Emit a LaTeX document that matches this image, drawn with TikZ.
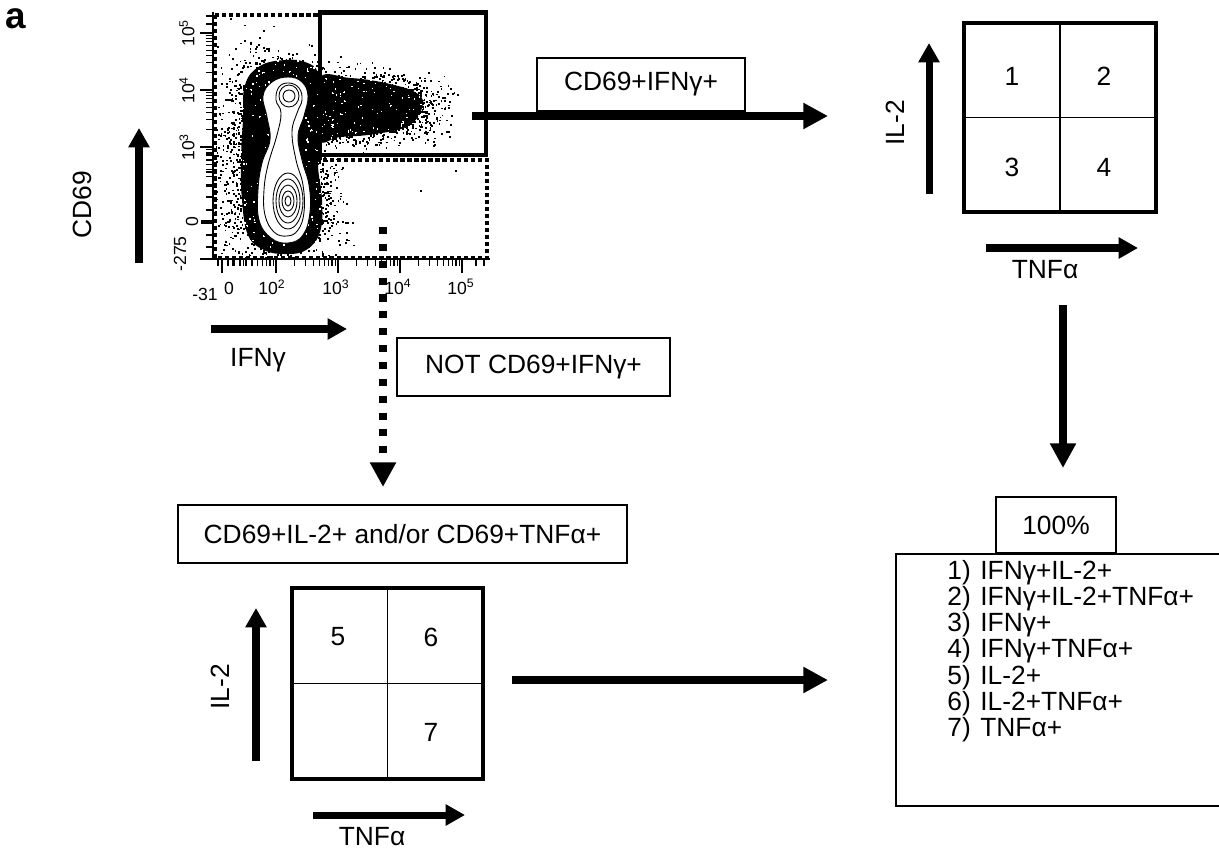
\documentclass[tikz,border=0pt]{standalone}
\usepackage{fontspec}
\setmainfont{Liberation Sans}
\usetikzlibrary{arrows.meta, positioning, calc}

\tikzset{
  txt/.style={font=\fontsize{15}{18}\selectfont, inner sep=0pt},
  lbl/.style={txt, draw, line width=0.9pt},
  quad/.style={draw, line width=1.9pt, inner sep=0pt},
  ticklbl/.style={font=\fontsize{10}{12}\selectfont, inner sep=0pt},
  bigarrow/.style={line width=4.5pt, -{Triangle[length=14pt,width=14pt]}},
  axarrow/.style={line width=4pt, -{Triangle[length=11pt,width=11.5pt]}},
  gatearrow/.style={line width=4pt, dash pattern=on 4pt off 5.6pt, -{Triangle[length=14pt,width=14pt]}},
  axtick/.style={line width=0.7pt}
}

\begin{document}
\begin{tikzpicture}[x=0.02cm, y=-0.02cm]
        % whole panel, 1219 x 852 px
        \useasboundingbox (0,0) rectangle (1219,852);
        \clip (0,0) rectangle (1219,852);

        \node[font=\bfseries\fontsize{21}{24}\selectfont, inner sep=0pt] (panel) at (16,19) {a};

        % dot plot CD69 vs IFNg
        \pgfmathsetseed{11}
        \begin{scope}
          \clip (215,15) rectangle (487,257);
          % dense cores
          \fill plot[smooth cycle, tension=0.7] coordinates {(285,60) (305,62) (318,72) (322,95) (320,130) (318,165) (322,200) (320,232) (306,250) (285,254) (264,250) (248,235) (242,200) (241,160) (243,120) (245,85) (260,66)};
          \fill plot[smooth cycle, tension=0.7] coordinates {(318,80) (350,78) (390,84) (418,94) (422,108) (408,126) (375,134) (340,137) (318,138)};
          % white speckle in the cores
          \foreach \i in {1,...,300}{
            \pgfmathsetmacro\px{281+41*rand}
            \pgfmathsetmacro\py{157+97*rand}
            \fill[white] (\px,\py) rectangle ++(1.6,1.6);
          }
          \foreach \i in {1,...,170}{
            \pgfmathsetmacro\px{370+52*rand}
            \pgfmathsetmacro\py{108+30*rand}
            \fill[white] (\px,\py) rectangle ++(1.5,1.5);
          }
          % n / centre x / centre y / spread x / spread y
          \foreach \n/\cx/\cy/\sx/\sy in {1300/284/196/26/30, 900/285/98/24/20, 1000/258/150/22/50, 1500/372/107/32/17}{
            \foreach \i in {1,...,\n}{
              \pgfmathsetmacro\px{\cx+\sx*(rand+rand+rand)}
              \pgfmathsetmacro\py{\cy+\sy*(rand+rand+rand)}
              \fill (\px,\py) rectangle ++(1.8,1.8);
            }
          }
          % a few stray events
          \foreach \px/\py in {330/185, 345/222, 352/222, 338/240, 420/190, 455/170}
            \fill (\px,\py) rectangle ++(1.8,1.8);
        \end{scope}

        % contours
        \filldraw[fill=white, line width=0.5pt] plot[smooth cycle, tension=0.7] coordinates {(288,77) (302,82) (308,96) (304,116) (298,136) (302,160) (309,185) (310,212) (303,235) (288,243) (271,238) (259,220) (258,190) (262,163) (270,140) (267,117) (263,96) (272,82)};
        \draw[line width=0.5pt] plot[smooth cycle, tension=0.7] coordinates {(289,83) (299,88) (302,100) (297,113) (292,132) (296,160) (303,185) (304,212) (298,230) (287,236) (274,232) (265,215) (264,190) (268,165) (277,135) (281,113) (276,100) (279,87)};
        \draw[line width=0.5pt] (289,96) ellipse [x radius=10, y radius=11];
        \draw[line width=0.5pt] (289,96) ellipse [x radius=6, y radius=6];
        \foreach \rx/\ry in {15/28, 12/22, 9/16, 6/10, 3/5}
          \draw[line width=0.5pt] (288,201) ellipse [x radius=\rx, y radius=\ry];

        % axes with log ticks
        \draw[axtick] (213,12) -- (213,259) -- (490,259);
        \foreach \d in {33,90,147}{
          \draw[axtick] (213,\d) -- (200,\d);
          \foreach \k in {0.301,0.477,0.602,0.699,0.778,0.845,0.903,0.954}
            \draw[axtick] (213,\d+57-57*\k) -- (206,\d+57-57*\k);
        }
        \foreach \d in {16,24,154,160,172,185,197,210,235,247}
          \draw[axtick] (213,\d) -- (206,\d);
        \draw[line width=2pt] (213,222) -- (201,222);
        \draw[axtick] (213,259) -- (200,259);
        \foreach \d in {276,338,400,462}{
          \draw[axtick] (\d,259) -- (\d,273);
          \foreach \k in {0.301,0.477,0.602,0.699,0.778,0.845,0.903,0.954}
            \draw[axtick] (\d-62.5+62.5*\k,259) -- (\d-62.5+62.5*\k,266);
        }
        \foreach \d in {218,228,234,240,246,252,476,484}
          \draw[axtick] (\d,259) -- (\d,266);
        \draw[axtick] (222,259) -- (222,273);

        \foreach \yy/\e in {33/5, 90/4, 147/3}
          \node[ticklbl, rotate=90] (ylab\e) at (187,\yy) {10\textsuperscript{\e}};
        \node[ticklbl, rotate=90] (ylab0) at (192,222) {0};
        \node[ticklbl, rotate=90] (ylabm) at (180,254) {-275};
        \node[ticklbl] (xlabm) at (205,294) {-31};
        \node[ticklbl] (xlab0) at (229,288) {0};
        \foreach \xx/\e in {272/2, 336/3, 398/4, 461/5}
          \node[ticklbl] (xlab\e) at (\xx,287) {10\textsuperscript{\e}};

        % gates
        \draw[line width=2.4pt, dash pattern=on 2.4pt off 1.6pt] (215,15) -- (320,15) -- (320,160) -- (487,160) -- (487,258) -- (215,258) -- cycle;
        \draw[line width=2.6pt] (320,12.5) rectangle (486,155);

        % axis arrows of the dot plot
        \coordinate (cdlow) at (139,263);
        \coordinate (cdhigh) at (139,128);
        \draw[axarrow] (cdlow) -- (cdhigh);
        \node[txt, rotate=90] (cdlab) at (82,205) {CD69};
        \coordinate (ifnlow) at (211,329);
        \coordinate (ifnhigh) at (347,329);
        \draw[axarrow] (ifnlow) -- (ifnhigh);
        \node[txt] (ifnlab) at (258,360) {IFNγ};

        % CD69+IFNg+ branch
        \node[lbl, minimum width=4.16cm, minimum height=1.06cm] (poslab) at (641,84.5) {CD69+IFNγ+};
        \coordinate (posout) at (472,116);
        \coordinate (posin) at (828,116);
        \draw[bigarrow] (posout) -- (posin);

        \node[quad, minimum width=3.84cm, minimum height=3.78cm] (quadtop) at (1060,117.5) {};
        \draw[line width=0.8pt] (quadtop.north) -- (quadtop.south);
        \draw[line width=0.8pt] (quadtop.west) -- (quadtop.east);
        \node[txt] (q1) at (1012,76) {1};
        \node[txt] (q2) at (1104,76) {2};
        \node[txt] (q3) at (1012,167) {3};
        \node[txt] (q4) at (1104,167) {4};
        \coordinate (iltoplow) at (929,194);
        \coordinate (iltophigh) at (929,43);
        \draw[axarrow] (iltoplow) -- (iltophigh);
        \node[txt, rotate=90] (iltoplab) at (895,123) {IL-2};
        \coordinate (tnftoplow) at (986,248);
        \coordinate (tnftophigh) at (1138,248);
        \draw[axarrow] (tnftoplow) -- (tnftophigh);
        \node[txt] (tnftoplab) at (1045,270) {TNFα};

        \coordinate (downout) at (1063,305);
        \coordinate (downin) at (1063,468);
        \draw[bigarrow] (downout) -- (downin);

        % NOT CD69+IFNg+ branch
        \coordinate (negout) at (383,227);
        \coordinate (negin) at (383,487);
        \draw[gatearrow] (negout) -- (negin);
        \node[lbl, minimum width=5.46cm, minimum height=1.16cm] (neglab) at (533.5,367) {NOT CD69+IFNγ+};
        \node[lbl, minimum width=8.98cm, minimum height=1.16cm] (orlab) at (402.5,534) {CD69+IL-2+ and/or CD69+TNFα+};

        \node[quad, minimum width=3.82cm, minimum height=3.82cm] (quadbot) at (387.5,683.5) {};
        \draw[line width=0.8pt] (quadbot.north) -- (quadbot.south);
        \draw[line width=0.8pt] (quadbot.west) -- (quadbot.east);
        \node[txt] (q5) at (338,637) {5};
        \node[txt] (q6) at (431,637) {6};
        \node[txt] (q7) at (431,732) {7};
        \coordinate (ilbotlow) at (256,761);
        \coordinate (ilbothigh) at (256,608);
        \draw[axarrow] (ilbotlow) -- (ilbothigh);
        \node[txt, rotate=90] (ilbotlab) at (220,687) {IL-2};
        \coordinate (tnfbotlow) at (313,815);
        \coordinate (tnfbothigh) at (465,815);
        \draw[axarrow] (tnfbotlow) -- (tnfbothigh);
        \node[txt] (tnfbotlab) at (372,837) {TNFα};

        \coordinate (botout) at (512,680);
        \coordinate (botin) at (828,680);
        \draw[bigarrow] (botout) -- (botin);

        % summary
        \node[lbl, minimum width=2.4cm, minimum height=1.12cm] (pct) at (1056,525) {100\%};
        \node[draw, line width=1.3pt, anchor=north west, minimum width=6.8cm, minimum height=5.04cm] (phenobox) at (895,553) {};
        \foreach \k/\t in {1/IFNγ+IL-2+, 2/IFNγ+IL-2+TNFα+, 3/IFNγ+, 4/IFNγ+TNFα+, 5/IL-2+, 6/IL-2+TNFα+, 7/TNFα+}{
          \node[txt, anchor=base west] (num\k) at (947,579+26.3*\k-26.3) {\k)};
          \node[txt, anchor=base west] (item\k) at (980,579+26.3*\k-26.3) {\t};
        }
\end{tikzpicture}
\end{document}
